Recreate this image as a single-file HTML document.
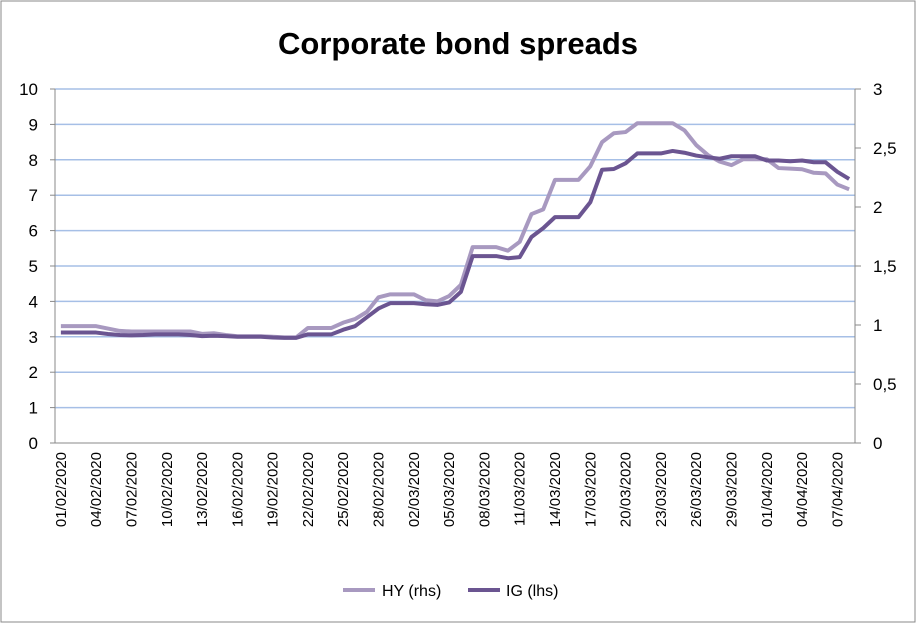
<!DOCTYPE html>
<html><head><meta charset="utf-8"><style>
body{margin:0;background:#fff}
svg text{font-family:"Liberation Sans",Arial,sans-serif}
</style></head><body>
<svg width="916" height="623" xmlns="http://www.w3.org/2000/svg">
<rect x="1" y="1" width="914" height="621" fill="#fff" stroke="#8a8a8a" stroke-width="1"/>
<text x="458" y="54" font-size="31" font-weight="bold" text-anchor="middle">Corporate bond spreads</text>
<g id="grid"></g>
<g id="axes"></g>
<g id="series"></g>
<g>
<g><line x1="343" y1="590" x2="375" y2="590" stroke="#a899c0" stroke-width="4"/><text x="382" y="596" font-size="16">HY (rhs)</text></g>
<g><line x1="468" y1="590" x2="500" y2="590" stroke="#6b5591" stroke-width="4"/><text x="506" y="596" font-size="16">IG (lhs)</text></g>
</g>
</svg>
<script>
const startDate = [2020, 2, 1];
const igValues = [3.12,3.12,3.12,3.12,3.08,3.05,3.04,3.05,3.07,3.07,3.07,3.05,3.02,3.03,3.02,3.0,3.0,3.0,2.98,2.97,2.97,3.07,3.07,3.07,3.2,3.3,3.55,3.8,3.95,3.95,3.95,3.92,3.9,3.97,4.27,5.28,5.28,5.28,5.22,5.25,5.82,6.07,6.38,6.38,6.38,6.8,7.72,7.74,7.9,8.18,8.18,8.18,8.25,8.2,8.12,8.07,8.03,8.1,8.1,8.1,7.98,7.98,7.96,7.98,7.93,7.93,7.66,7.46];
const hyValues = [0.99,0.99,0.99,0.99,0.97,0.95,0.945,0.945,0.945,0.945,0.945,0.945,0.925,0.93,0.915,0.905,0.905,0.905,0.9,0.895,0.895,0.975,0.975,0.975,1.02,1.05,1.11,1.235,1.26,1.26,1.26,1.21,1.2,1.245,1.34,1.66,1.66,1.66,1.63,1.705,1.94,1.98,2.23,2.23,2.23,2.345,2.55,2.625,2.635,2.71,2.71,2.71,2.71,2.65,2.525,2.44,2.385,2.355,2.405,2.405,2.405,2.33,2.325,2.32,2.29,2.285,2.19,2.15];
const leftTicks = [0,1,2,3,4,5,6,7,8,9,10];
const rightTicks = ["0","0,5","1","1,5","2","2,5","3"];
const NS="http://www.w3.org/2000/svg";
const L=55,R=855,T=89,B=443,n=igValues.length,step=(R-L)/n;
const xs=i=>L+step*(i+0.5);
const yl=v=>B-(v/10)*(B-T);
const yr=v=>B-(v/3)*(B-T);
function mk(tag,attrs,parent){const e=document.createElementNS(NS,tag);for(const k in attrs)e.setAttribute(k,attrs[k]);parent.appendChild(e);return e;}
const grid=document.getElementById('grid'),axes=document.getElementById('axes'),series=document.getElementById('series');
leftTicks.forEach(v=>{
 if(v>0){const g=mk('line',{x1:L,x2:R,y1:yl(v),y2:yl(v),stroke:'#a6bfe6','stroke-width':1.5},grid);
 
 }
 const t=mk('text',{x:38,y:yl(v)+6,'font-size':17,'text-anchor':'end'},axes);t.textContent=v;
 
 
 mk('line',{x1:L-5,x2:L,y1:yl(v),y2:yl(v),stroke:'#888'},axes);
});
rightTicks.forEach((s,i)=>{
 const v=i*0.5;
 const t=mk('text',{x:873,y:yr(v)+6,'font-size':17},axes);t.textContent=s;
 
 
 mk('line',{x1:R,x2:R+6,y1:yr(v),y2:yr(v),stroke:'#888'},axes);
});
mk('line',{x1:L,x2:L,y1:T,y2:B,stroke:'#888'},axes);
mk('line',{x1:R,x2:R,y1:T,y2:B,stroke:'#888'},axes);
mk('line',{x1:L,x2:R,y1:B,y2:B,stroke:'#888'},axes);
for(let i=0;i<n;i+=3){
 const d=new Date(startDate[0],startDate[1]-1,startDate[2]+i);
 const s=String(d.getDate()).padStart(2,'0')+'/'+String(d.getMonth()+1).padStart(2,'0')+'/'+d.getFullYear();
 const x=xs(i)+5;
 const t=mk('text',{x:x,y:452,'font-size':15,'text-anchor':'end',transform:`rotate(-90 ${x} 452)`},axes);
 t.textContent=s;
 
 
}
const hp=mk('polyline',{points:hyValues.map((v,i)=>xs(i)+','+yr(v)).join(' '),fill:'none',stroke:'#a899c0','stroke-width':4,'stroke-linejoin':'round'},series);


const ip=mk('polyline',{points:igValues.map((v,i)=>xs(i)+','+yl(v)).join(' '),fill:'none',stroke:'#6b5591','stroke-width':4,'stroke-linejoin':'round'},series);


</script>
</body></html>
